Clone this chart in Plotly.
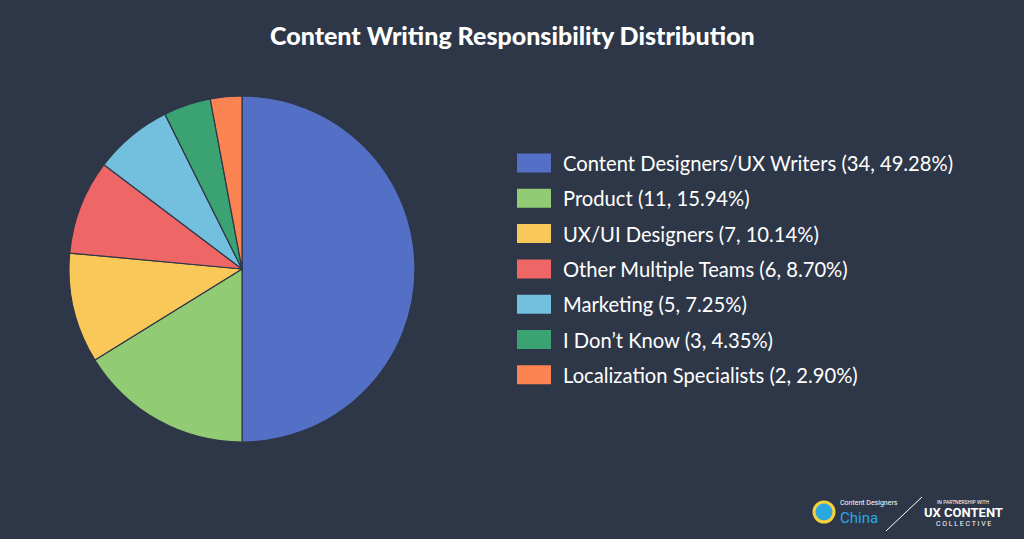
import plotly.graph_objects as go

labels = ["Content Designers/UX Writers", "Product", "UX/UI Designers",
          "Other Multiple Teams", "Marketing", "I Don’t Know", "Localization Specialists"]
counts = [34, 11, 7, 6, 5, 3, 2]
percents = ["49.28%", "15.94%", "10.14%", "8.70%", "7.25%", "4.35%", "2.90%"]
colors = ["#5470c6", "#91cc75", "#fac858", "#ee6666", "#73c0de", "#3ba272", "#fc8452"]

BG = "#2e3748"
W, H = 1024, 539

fig = go.Figure()
fig.add_trace(go.Pie(
    labels=labels, values=counts, sort=False, direction="clockwise", rotation=0,
    marker=dict(colors=colors, line=dict(color=BG, width=1.2)),
    textinfo="none", hoverinfo="label+value+percent", showlegend=False,
    domain=dict(x=[69 / W, 415 / W], y=[97 / H, 443 / H]),
))

shapes = []
annotations = []
y0 = 163
step = 35.3
for i, (lab, c, p, col) in enumerate(zip(labels, counts, percents, colors)):
    yc = y0 + i * step
    shapes.append(dict(type="rect", xref="paper", yref="paper",
                       x0=517 / W, x1=551 / W,
                       y0=1 - (yc - 9.5) / H, y1=1 - (yc + 9.5) / H,
                       fillcolor=col, line=dict(width=0), layer="above"))
    annotations.append(dict(xref="paper", yref="paper", x=561 / W, y=1 - yc / H,
                            xanchor="left", yanchor="middle", showarrow=False,
                            text=f"{lab} ({c}, {p})",
                            font=dict(family="Lato", size=20.2, color="#ffffff")))

# title
annotations.append(dict(xref="paper", yref="paper", x=0.5, y=1 - 35 / H,
                        xanchor="center", yanchor="middle", showarrow=False,
                        text="Content Writing Responsibility Distribution",
                        font=dict(family="Lato", size=25, weight=900, color="#ffffff")))

# footer branding
shapes.append(dict(type="circle", xref="paper", yref="paper",
                   x0=814 / W, x1=834 / W, y0=1 - 502 / H, y1=1 - 522 / H,
                   fillcolor="#29a9e0", line=dict(color="#f5d23a", width=3)))
annotations.append(dict(xref="paper", yref="paper", x=838 / W, y=1 - 503 / H,
                        xanchor="left", yanchor="middle", showarrow=False,
                        text="Content Designers",
                        font=dict(family="Roboto", size=7, color="#ffffff")))
annotations.append(dict(xref="paper", yref="paper", x=838 / W, y=1 - 518 / H,
                        xanchor="left", yanchor="middle", showarrow=False,
                        text="China",
                        font=dict(family="Roboto", size=15, color="#29a9e0")))
shapes.append(dict(type="line", xref="paper", yref="paper",
                   x0=886 / W, x1=922 / W, y0=1 - 531 / H, y1=1 - 497 / H,
                   line=dict(color="#ffffff", width=1)))
annotations.append(dict(xref="paper", yref="paper", x=963 / W, y=1 - 502 / H,
                        xanchor="center", yanchor="middle", showarrow=False,
                        text="IN PARTNERSHIP WITH",
                        font=dict(family="Roboto", size=5, color="#ffffff")))
annotations.append(dict(xref="paper", yref="paper", x=963 / W, y=1 - 512 / H,
                        xanchor="center", yanchor="middle", showarrow=False,
                        text="<b>UX CONTENT</b>",
                        font=dict(family="Roboto", size=13, color="#ffffff")))
annotations.append(dict(xref="paper", yref="paper", x=963 / W, y=1 - 524 / H,
                        xanchor="center", yanchor="middle", showarrow=False,
                        text="C O L L E C T I V E",
                        font=dict(family="Roboto", size=7, color="#ffffff")))

fig.update_layout(
    width=W, height=H,
    paper_bgcolor=BG, plot_bgcolor=BG,
    margin=dict(l=0, r=0, t=0, b=0),
    shapes=shapes, annotations=annotations,
)

fig.write_html("out.html", config={"displayModeBar": False},
               post_script="document.body.style.margin='0';document.body.style.padding='0';"
                           "document.body.style.background='" + BG + "';")
